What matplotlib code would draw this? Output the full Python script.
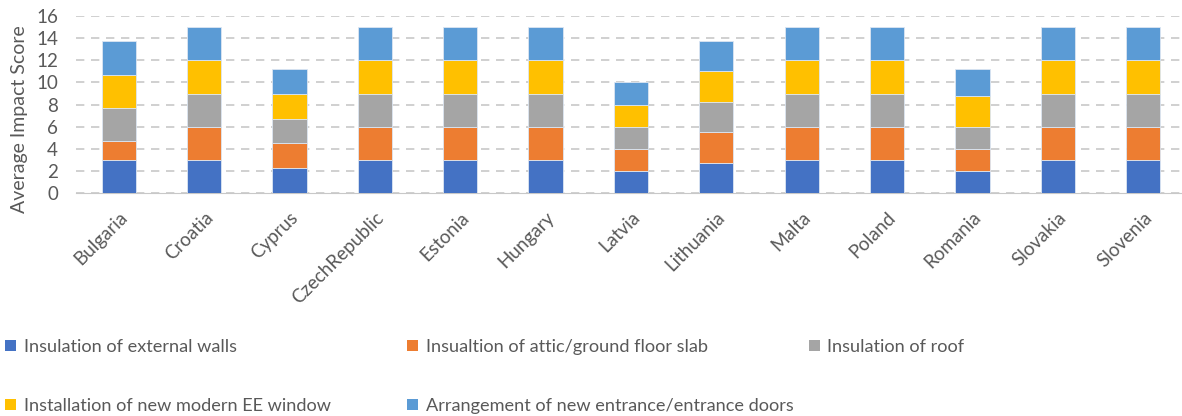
import numpy as np
import matplotlib.pyplot as plt
from matplotlib.patches import Patch

plt.rcParams.update({"font.family": ["Lato", "DejaVu Sans"],
                     "font.size": 11})

countries = ["Bulgaria", "Croatia", "Cyprus", "CzechRepublic", "Estonia",
             "Hungary", "Latvia", "Lithuania", "Malta", "Poland", "Romania",
             "Slovakia", "Slovenia"]

walls = [3, 3, 2.25, 3, 3, 3, 2, 2.75, 3, 3, 2, 3, 3]
attic = [1.7, 3, 2.25, 3, 3, 3, 2, 2.75, 3, 3, 2, 3, 3]
roof = [3, 3, 2.2, 3, 3, 3, 2, 2.7, 3, 3, 2, 3, 3]
window = [2.95, 3, 2.3, 3, 3, 3, 2, 2.8, 3, 3, 2.75, 3, 3]
doors = [3.05, 3, 2.25, 3, 3, 3, 2, 2.75, 3, 3, 2.5, 3, 3]

series = [
    ("Insulation of external walls", walls, "#4472C4"),
    ("Insualtion of attic/ground floor slab", attic, "#ED7D31"),
    ("Insulation of roof", roof, "#A5A5A5"),
    ("Installation of new modern EE window", window, "#FFC000"),
    ("Arrangement of new entrance/entrance doors", doors, "#5B9BD5"),
]


def main():
    fig = plt.figure(figsize=(11.82, 4.16), dpi=100)
    ax = fig.add_axes([0.0643, 0.535, 0.939, 0.427])

    x = np.arange(len(countries))
    bottom = np.zeros(len(countries))
    handles = []
    for label, vals, col in series:
        vals = np.array(vals)
        ax.bar(x, vals, 0.4, bottom=bottom, color=col,
               edgecolor="#dce6f2", linewidth=0.6, zorder=3)
        bottom += vals
        handles.append(Patch(facecolor=col, label=label))

    ax.set_xlim(-0.5, len(countries) - 0.5)
    ax.set_ylim(0, 16)
    ax.set_yticks(np.arange(0, 17, 2))
    ax.yaxis.grid(True, linestyle=(0, (5, 4)), color="#c8c8c8", lw=1.2)
    ax.set_axisbelow(True)
    for s in ["top", "right", "left"]:
        ax.spines[s].set_visible(False)
    ax.spines["bottom"].set_color("#c8c8c8")
    ax.tick_params(length=0, colors="#595959", labelsize=13.5)
    ax.tick_params(axis="y", pad=13)
    ax.tick_params(axis="x", pad=11)
    ax.set_xticks(x)
    ax.set_xticklabels(countries, rotation=45, ha="right",
                       rotation_mode="anchor")
    ax.set_ylabel("Average Impact Score", color="#595959", fontsize=14)
    ax.yaxis.set_label_coords(-0.043, 0.42)

    # legend laid out as three columns, row-major order
    cols = [(0.0, [handles[0], handles[3]]),
            (0.34, [handles[1], handles[4]]),
            (0.68, [handles[2]])]
    for xpos, hs in cols:
        leg = fig.legend(handles=hs, loc="upper left",
                         bbox_to_anchor=(xpos, 0.198), frameon=False,
                         fontsize=13.1, handlelength=0.6, handleheight=0.6,
                         handletextpad=0.4, labelspacing=2.35,
                         borderaxespad=0, borderpad=0.3)
        for t in leg.get_texts():
            t.set_color("#595959")

    fig.savefig("out.png", dpi=100)


if __name__ == "__main__":
    main()
